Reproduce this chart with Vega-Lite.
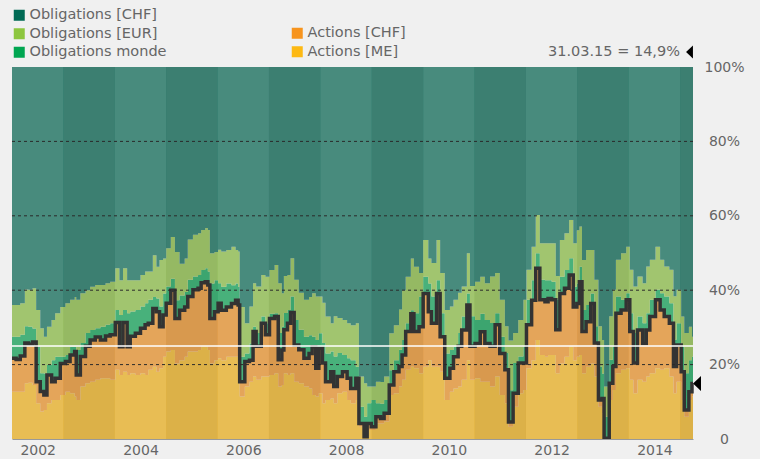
{
  "$schema": "https://vega.github.io/schema/vega-lite/v6.json",
  "width": 681,
  "height": 372,
  "autosize": {"type": "none"},
  "padding": {"left": 12, "top": 67, "right": 67, "bottom": 20},
  "background": "#f0f0f0",
  "config": {"view": {"stroke": null}, "font": "DejaVu Sans"},
  "datasets": {
    "order": [
      {"s": "me", "o": 1, "name": "Actions [ME]"},
      {"s": "ac", "o": 2, "name": "Actions [CHF]"},
      {"s": "mo", "o": 3, "name": "Obligations monde"},
      {"s": "eu", "o": 4, "name": "Obligations [EUR]"},
      {"s": "oc", "o": 5, "name": "Obligations [CHF]"}
    ],
    "bands": [
      {"a": 2002, "b": 2003, "d": 0}, {"a": 2003, "b": 2004, "d": 1},
      {"a": 2004, "b": 2005, "d": 0}, {"a": 2005, "b": 2006, "d": 1},
      {"a": 2006, "b": 2007, "d": 0}, {"a": 2007, "b": 2008, "d": 1},
      {"a": 2008, "b": 2009, "d": 0}, {"a": 2009, "b": 2010, "d": 1},
      {"a": 2010, "b": 2011, "d": 0}, {"a": 2011, "b": 2012, "d": 1},
      {"a": 2012, "b": 2013, "d": 0}, {"a": 2013, "b": 2014, "d": 1},
      {"a": 2014, "b": 2015, "d": 0}, {"a": 2015, "b": 2015.25, "d": 1}
    ],
    "alloc": [
      {"t": 2002.00, "me": 12.7, "ac": 9.0, "mo": 5.8, "eu": 8.5, "oc": 64.0},
      {"t": 2002.08, "me": 12.7, "ac": 8.7, "mo": 6.1, "eu": 8.5, "oc": 64.0},
      {"t": 2002.16, "me": 12.7, "ac": 9.6, "mo": 5.7, "eu": 8.5, "oc": 63.5},
      {"t": 2002.25, "me": 15.0, "ac": 10.8, "mo": 4.5, "eu": 9.9, "oc": 59.8},
      {"t": 2002.32, "me": 15.1, "ac": 10.4, "mo": 4.7, "eu": 9.9, "oc": 59.9},
      {"t": 2002.40, "me": 14.5, "ac": 11.6, "mo": 3.6, "eu": 10.8, "oc": 59.5},
      {"t": 2002.47, "me": 9.6, "ac": 5.8, "mo": 9.4, "eu": 9.9, "oc": 65.3},
      {"t": 2002.55, "me": 7.4, "ac": 5.4, "mo": 4.9, "eu": 12.1, "oc": 70.2},
      {"t": 2002.62, "me": 7.8, "ac": 4.0, "mo": 5.8, "eu": 9.9, "oc": 72.5},
      {"t": 2002.68, "me": 9.6, "ac": 7.6, "mo": 2.7, "eu": 10.3, "oc": 69.8},
      {"t": 2002.77, "me": 10.5, "ac": 4.9, "mo": 5.8, "eu": 10.8, "oc": 68.0},
      {"t": 2002.84, "me": 10.5, "ac": 5.8, "mo": 5.8, "eu": 11.7, "oc": 66.2},
      {"t": 2002.94, "me": 11.8, "ac": 8.5, "mo": 1.8, "eu": 13.4, "oc": 64.5},
      {"t": 2003.04, "me": 12.7, "ac": 8.1, "mo": 1.8, "eu": 13.9, "oc": 63.5},
      {"t": 2003.13, "me": 12.3, "ac": 10.3, "mo": 2.2, "eu": 12.6, "oc": 62.6},
      {"t": 2003.22, "me": 11.4, "ac": 12.1, "mo": 1.3, "eu": 13.4, "oc": 61.8},
      {"t": 2003.25, "me": 10.5, "ac": 6.7, "mo": 6.7, "eu": 13.5, "oc": 62.6},
      {"t": 2003.33, "me": 14.1, "ac": 8.1, "mo": 3.6, "eu": 13.4, "oc": 60.8},
      {"t": 2003.43, "me": 15.0, "ac": 9.9, "mo": 3.6, "eu": 11.5, "oc": 60.0},
      {"t": 2003.52, "me": 15.4, "ac": 11.2, "mo": 2.7, "eu": 11.6, "oc": 59.1},
      {"t": 2003.62, "me": 15.9, "ac": 11.5, "mo": 2.4, "eu": 11.6, "oc": 58.6},
      {"t": 2003.72, "me": 16.3, "ac": 10.3, "mo": 3.6, "eu": 11.2, "oc": 58.6},
      {"t": 2003.82, "me": 16.3, "ac": 11.4, "mo": 3.0, "eu": 11.2, "oc": 58.1},
      {"t": 2003.91, "me": 15.9, "ac": 12.1, "mo": 3.1, "eu": 11.2, "oc": 57.7},
      {"t": 2004.01, "me": 18.6, "ac": 12.7, "mo": 3.4, "eu": 11.2, "oc": 54.1},
      {"t": 2004.09, "me": 17.2, "ac": 7.6, "mo": 8.5, "eu": 9.4, "oc": 57.3},
      {"t": 2004.16, "me": 18.1, "ac": 13.2, "mo": 3.4, "eu": 11.2, "oc": 54.1},
      {"t": 2004.24, "me": 17.2, "ac": 7.6, "mo": 9.0, "eu": 8.9, "oc": 57.3},
      {"t": 2004.30, "me": 17.7, "ac": 9.9, "mo": 6.7, "eu": 8.4, "oc": 57.3},
      {"t": 2004.40, "me": 17.2, "ac": 11.2, "mo": 6.3, "eu": 8.0, "oc": 57.3},
      {"t": 2004.50, "me": 17.7, "ac": 12.1, "mo": 5.8, "eu": 8.5, "oc": 55.9},
      {"t": 2004.59, "me": 17.2, "ac": 13.5, "mo": 5.8, "eu": 8.5, "oc": 55.0},
      {"t": 2004.65, "me": 18.6, "ac": 12.5, "mo": 6.3, "eu": 7.6, "oc": 55.0},
      {"t": 2004.74, "me": 19.4, "ac": 15.7, "mo": 3.1, "eu": 11.2, "oc": 50.6},
      {"t": 2004.81, "me": 18.1, "ac": 16.1, "mo": 3.6, "eu": 8.5, "oc": 53.7},
      {"t": 2004.87, "me": 19.0, "ac": 11.2, "mo": 5.4, "eu": 12.5, "oc": 51.9},
      {"t": 2004.94, "me": 22.1, "ac": 11.2, "mo": 5.8, "eu": 9.4, "oc": 51.5},
      {"t": 2005.00, "me": 23.5, "ac": 13.0, "mo": 4.5, "eu": 10.3, "oc": 48.7},
      {"t": 2005.09, "me": 23.9, "ac": 16.1, "mo": 3.1, "eu": 11.2, "oc": 45.7},
      {"t": 2005.17, "me": 20.3, "ac": 12.1, "mo": 4.9, "eu": 13.0, "oc": 49.7},
      {"t": 2005.26, "me": 21.2, "ac": 13.4, "mo": 4.0, "eu": 8.5, "oc": 52.9},
      {"t": 2005.36, "me": 22.1, "ac": 13.4, "mo": 4.0, "eu": 9.0, "oc": 51.5},
      {"t": 2005.42, "me": 23.5, "ac": 14.8, "mo": 4.5, "eu": 10.8, "oc": 46.4},
      {"t": 2005.52, "me": 23.5, "ac": 16.6, "mo": 3.6, "eu": 11.2, "oc": 45.1},
      {"t": 2005.62, "me": 23.9, "ac": 16.6, "mo": 3.6, "eu": 11.2, "oc": 44.7},
      {"t": 2005.68, "me": 24.8, "ac": 17.2, "mo": 3.4, "eu": 10.8, "oc": 43.8},
      {"t": 2005.76, "me": 24.8, "ac": 17.5, "mo": 3.6, "eu": 10.8, "oc": 43.3},
      {"t": 2005.81, "me": 23.9, "ac": 17.5, "mo": 3.6, "eu": 11.2, "oc": 43.8},
      {"t": 2005.85, "me": 20.3, "ac": 12.1, "mo": 9.4, "eu": 8.1, "oc": 50.1},
      {"t": 2005.94, "me": 21.2, "ac": 13.0, "mo": 8.5, "eu": 7.6, "oc": 49.7},
      {"t": 2006.01, "me": 21.7, "ac": 14.8, "mo": 5.4, "eu": 9.0, "oc": 49.1},
      {"t": 2006.07, "me": 21.2, "ac": 13.4, "mo": 6.3, "eu": 9.5, "oc": 49.6},
      {"t": 2006.17, "me": 22.1, "ac": 13.4, "mo": 6.3, "eu": 9.0, "oc": 49.2},
      {"t": 2006.27, "me": 22.1, "ac": 14.3, "mo": 4.9, "eu": 10.4, "oc": 48.3},
      {"t": 2006.35, "me": 22.1, "ac": 15.2, "mo": 4.5, "eu": 9.0, "oc": 49.2},
      {"t": 2006.40, "me": 21.2, "ac": 14.8, "mo": 4.9, "eu": 9.5, "oc": 49.6},
      {"t": 2006.43, "me": 11.4, "ac": 4.0, "mo": 6.7, "eu": 13.4, "oc": 64.5},
      {"t": 2006.53, "me": 14.1, "ac": 6.7, "mo": 2.2, "eu": 8.1, "oc": 68.9},
      {"t": 2006.62, "me": 15.4, "ac": 5.8, "mo": 4.5, "eu": 9.9, "oc": 64.4},
      {"t": 2006.69, "me": 16.8, "ac": 12.1, "mo": 1.3, "eu": 11.7, "oc": 58.1},
      {"t": 2006.75, "me": 15.9, "ac": 9.0, "mo": 3.6, "eu": 12.5, "oc": 59.0},
      {"t": 2006.85, "me": 16.8, "ac": 14.3, "mo": 1.8, "eu": 11.2, "oc": 55.9},
      {"t": 2006.93, "me": 16.8, "ac": 11.2, "mo": 3.1, "eu": 12.5, "oc": 56.4},
      {"t": 2007.01, "me": 17.2, "ac": 15.2, "mo": 1.3, "eu": 11.7, "oc": 54.6},
      {"t": 2007.11, "me": 17.7, "ac": 15.2, "mo": 0.9, "eu": 13.0, "oc": 53.2},
      {"t": 2007.18, "me": 14.1, "ac": 7.2, "mo": 7.2, "eu": 13.4, "oc": 58.1},
      {"t": 2007.25, "me": 14.5, "ac": 9.4, "mo": 6.3, "eu": 9.0, "oc": 60.8},
      {"t": 2007.29, "me": 17.7, "ac": 11.7, "mo": 4.5, "eu": 9.9, "oc": 56.2},
      {"t": 2007.36, "me": 17.2, "ac": 13.9, "mo": 3.6, "eu": 9.4, "oc": 55.9},
      {"t": 2007.42, "me": 17.7, "ac": 16.3, "mo": 4.3, "eu": 10.3, "oc": 51.4},
      {"t": 2007.49, "me": 15.4, "ac": 9.9, "mo": 6.7, "eu": 10.8, "oc": 57.2},
      {"t": 2007.58, "me": 15.0, "ac": 9.0, "mo": 5.4, "eu": 9.9, "oc": 60.7},
      {"t": 2007.68, "me": 14.1, "ac": 7.6, "mo": 5.8, "eu": 9.9, "oc": 62.6},
      {"t": 2007.78, "me": 13.6, "ac": 9.4, "mo": 4.9, "eu": 10.3, "oc": 61.8},
      {"t": 2007.84, "me": 11.8, "ac": 13.0, "mo": 2.7, "eu": 11.7, "oc": 60.8},
      {"t": 2007.91, "me": 11.4, "ac": 7.6, "mo": 7.6, "eu": 11.7, "oc": 61.7},
      {"t": 2007.97, "me": 12.3, "ac": 12.1, "mo": 4.0, "eu": 9.9, "oc": 61.7},
      {"t": 2008.04, "me": 9.6, "ac": 10.8, "mo": 5.4, "eu": 10.8, "oc": 63.4},
      {"t": 2008.10, "me": 10.5, "ac": 4.9, "mo": 7.6, "eu": 9.9, "oc": 67.1},
      {"t": 2008.20, "me": 10.9, "ac": 7.2, "mo": 5.4, "eu": 7.6, "oc": 68.9},
      {"t": 2008.26, "me": 9.6, "ac": 4.5, "mo": 8.1, "eu": 10.8, "oc": 67.0},
      {"t": 2008.33, "me": 12.3, "ac": 4.5, "mo": 6.3, "eu": 9.4, "oc": 67.5},
      {"t": 2008.43, "me": 12.7, "ac": 5.4, "mo": 4.5, "eu": 9.4, "oc": 68.0},
      {"t": 2008.52, "me": 10.5, "ac": 5.8, "mo": 5.4, "eu": 9.4, "oc": 68.9},
      {"t": 2008.59, "me": 9.6, "ac": 4.0, "mo": 7.6, "eu": 9.4, "oc": 69.4},
      {"t": 2008.69, "me": 10.5, "ac": 5.8, "mo": 3.1, "eu": 11.7, "oc": 68.9},
      {"t": 2008.75, "me": 3.3, "ac": 0.9, "mo": 4.5, "eu": 8.1, "oc": 83.2},
      {"t": 2008.85, "me": 0.4, "ac": 0.2, "mo": 5.4, "eu": 9.0, "oc": 85.0},
      {"t": 2008.91, "me": 2.4, "ac": 1.8, "mo": 5.4, "eu": 4.5, "oc": 85.9},
      {"t": 2008.99, "me": 2.4, "ac": 0.9, "mo": 7.2, "eu": 3.6, "oc": 85.9},
      {"t": 2009.08, "me": 4.2, "ac": 1.8, "mo": 3.6, "eu": 5.8, "oc": 84.6},
      {"t": 2009.17, "me": 4.2, "ac": 1.3, "mo": 4.0, "eu": 5.8, "oc": 84.7},
      {"t": 2009.24, "me": 4.7, "ac": 2.2, "mo": 3.6, "eu": 6.3, "oc": 83.2},
      {"t": 2009.34, "me": 11.8, "ac": 2.7, "mo": 4.0, "eu": 9.9, "oc": 71.6},
      {"t": 2009.43, "me": 12.3, "ac": 5.8, "mo": 3.1, "eu": 9.4, "oc": 69.4},
      {"t": 2009.53, "me": 14.1, "ac": 5.4, "mo": 4.5, "eu": 10.8, "oc": 65.2},
      {"t": 2009.59, "me": 15.9, "ac": 6.7, "mo": 4.0, "eu": 13.4, "oc": 60.0},
      {"t": 2009.66, "me": 18.6, "ac": 10.3, "mo": 2.2, "eu": 12.5, "oc": 56.4},
      {"t": 2009.76, "me": 19.4, "ac": 14.3, "mo": 0.9, "eu": 13.9, "oc": 51.5},
      {"t": 2009.82, "me": 19.0, "ac": 9.9, "mo": 4.9, "eu": 12.5, "oc": 53.7},
      {"t": 2009.92, "me": 17.7, "ac": 12.5, "mo": 8.1, "eu": 6.3, "oc": 55.4},
      {"t": 2010.00, "me": 19.4, "ac": 19.7, "mo": 4.5, "eu": 9.9, "oc": 46.5},
      {"t": 2010.10, "me": 21.2, "ac": 13.0, "mo": 7.6, "eu": 6.7, "oc": 51.5},
      {"t": 2010.16, "me": 19.4, "ac": 11.7, "mo": 7.2, "eu": 9.0, "oc": 52.7},
      {"t": 2010.26, "me": 19.4, "ac": 19.7, "mo": 3.6, "eu": 10.8, "oc": 46.5},
      {"t": 2010.33, "me": 18.1, "ac": 9.4, "mo": 6.3, "eu": 10.8, "oc": 55.4},
      {"t": 2010.42, "me": 10.5, "ac": 5.8, "mo": 6.7, "eu": 11.7, "oc": 65.3},
      {"t": 2010.52, "me": 12.7, "ac": 6.3, "mo": 4.9, "eu": 11.7, "oc": 64.4},
      {"t": 2010.59, "me": 13.6, "ac": 8.5, "mo": 2.7, "eu": 12.6, "oc": 62.6},
      {"t": 2010.68, "me": 14.1, "ac": 10.8, "mo": 3.6, "eu": 10.8, "oc": 60.7},
      {"t": 2010.75, "me": 15.9, "ac": 13.4, "mo": 3.6, "eu": 8.1, "oc": 59.0},
      {"t": 2010.85, "me": 21.2, "ac": 14.8, "mo": 3.1, "eu": 10.8, "oc": 50.1},
      {"t": 2010.91, "me": 15.9, "ac": 9.0, "mo": 8.1, "eu": 8.1, "oc": 58.9},
      {"t": 2011.01, "me": 16.3, "ac": 9.4, "mo": 6.3, "eu": 10.3, "oc": 57.7},
      {"t": 2011.11, "me": 15.4, "ac": 13.4, "mo": 4.9, "eu": 9.9, "oc": 56.4},
      {"t": 2011.20, "me": 15.4, "ac": 10.3, "mo": 6.3, "eu": 9.9, "oc": 58.1},
      {"t": 2011.30, "me": 14.1, "ac": 10.8, "mo": 6.3, "eu": 12.5, "oc": 56.3},
      {"t": 2011.40, "me": 16.8, "ac": 13.9, "mo": 3.1, "eu": 10.8, "oc": 55.4},
      {"t": 2011.49, "me": 11.8, "ac": 11.2, "mo": 4.5, "eu": 9.9, "oc": 62.6},
      {"t": 2011.59, "me": 9.6, "ac": 9.0, "mo": 4.5, "eu": 7.2, "oc": 69.7},
      {"t": 2011.66, "me": 3.3, "ac": 1.3, "mo": 8.5, "eu": 13.4, "oc": 73.5},
      {"t": 2011.75, "me": 8.7, "ac": 3.6, "mo": 8.1, "eu": 8.1, "oc": 71.5},
      {"t": 2011.85, "me": 12.3, "ac": 8.1, "mo": 1.8, "eu": 9.8, "oc": 68.0},
      {"t": 2011.95, "me": 13.2, "ac": 7.2, "mo": 4.5, "eu": 12.5, "oc": 62.6},
      {"t": 2012.01, "me": 19.0, "ac": 11.7, "mo": 6.7, "eu": 8.1, "oc": 54.5},
      {"t": 2012.11, "me": 21.2, "ac": 16.1, "mo": 5.4, "eu": 9.0, "oc": 48.3},
      {"t": 2012.19, "me": 26.6, "ac": 19.3, "mo": 4.0, "eu": 10.3, "oc": 39.8},
      {"t": 2012.27, "me": 22.6, "ac": 14.8, "mo": 5.4, "eu": 9.8, "oc": 47.4},
      {"t": 2012.37, "me": 22.1, "ac": 14.8, "mo": 5.8, "eu": 9.9, "oc": 47.4},
      {"t": 2012.43, "me": 22.6, "ac": 15.2, "mo": 4.9, "eu": 9.9, "oc": 47.4},
      {"t": 2012.50, "me": 22.6, "ac": 14.8, "mo": 4.9, "eu": 10.3, "oc": 47.4},
      {"t": 2012.58, "me": 17.7, "ac": 11.7, "mo": 8.1, "eu": 6.3, "oc": 56.2},
      {"t": 2012.66, "me": 20.3, "ac": 18.8, "mo": 4.5, "eu": 9.9, "oc": 46.5},
      {"t": 2012.75, "me": 22.1, "ac": 18.4, "mo": 4.9, "eu": 9.9, "oc": 44.7},
      {"t": 2012.84, "me": 24.8, "ac": 19.3, "mo": 4.5, "eu": 10.3, "oc": 41.1},
      {"t": 2012.92, "me": 21.2, "ac": 14.3, "mo": 5.4, "eu": 11.7, "oc": 47.4},
      {"t": 2012.99, "me": 22.1, "ac": 14.3, "mo": 5.4, "eu": 14.3, "oc": 43.9},
      {"t": 2013.04, "me": 22.6, "ac": 19.7, "mo": 4.0, "eu": 10.8, "oc": 42.9},
      {"t": 2013.09, "me": 17.7, "ac": 11.2, "mo": 5.8, "eu": 13.4, "oc": 51.9},
      {"t": 2013.17, "me": 19.4, "ac": 12.1, "mo": 4.5, "eu": 14.8, "oc": 49.2},
      {"t": 2013.26, "me": 20.3, "ac": 16.1, "mo": 2.7, "eu": 11.7, "oc": 49.2},
      {"t": 2013.33, "me": 16.8, "ac": 9.0, "mo": 4.5, "eu": 12.5, "oc": 57.2},
      {"t": 2013.41, "me": 8.7, "ac": 1.8, "mo": 9.0, "eu": 10.8, "oc": 69.7},
      {"t": 2013.48, "me": 6.9, "ac": 4.0, "mo": 6.7, "eu": 9.0, "oc": 73.4},
      {"t": 2013.52, "me": 0.2, "ac": 0.0, "mo": 5.8, "eu": 8.1, "oc": 85.9},
      {"t": 2013.62, "me": 10.5, "ac": 4.5, "mo": 6.3, "eu": 11.7, "oc": 67.0},
      {"t": 2013.69, "me": 13.2, "ac": 6.3, "mo": 5.4, "eu": 15.2, "oc": 59.9},
      {"t": 2013.75, "me": 17.7, "ac": 16.1, "mo": 4.5, "eu": 9.9, "oc": 51.8},
      {"t": 2013.85, "me": 18.6, "ac": 16.1, "mo": 2.7, "eu": 12.5, "oc": 50.1},
      {"t": 2013.95, "me": 19.0, "ac": 18.4, "mo": 1.8, "eu": 12.5, "oc": 48.3},
      {"t": 2014.02, "me": 15.9, "ac": 13.0, "mo": 4.9, "eu": 11.7, "oc": 54.5},
      {"t": 2014.09, "me": 12.3, "ac": 8.1, "mo": 8.1, "eu": 12.5, "oc": 59.0},
      {"t": 2014.17, "me": 15.9, "ac": 13.4, "mo": 3.6, "eu": 10.8, "oc": 56.3},
      {"t": 2014.27, "me": 15.4, "ac": 10.3, "mo": 5.4, "eu": 10.8, "oc": 58.1},
      {"t": 2014.34, "me": 16.8, "ac": 12.5, "mo": 4.5, "eu": 12.6, "oc": 53.6},
      {"t": 2014.41, "me": 17.7, "ac": 15.2, "mo": 4.5, "eu": 10.8, "oc": 51.8},
      {"t": 2014.52, "me": 19.0, "ac": 18.4, "mo": 2.7, "eu": 11.6, "oc": 48.3},
      {"t": 2014.61, "me": 18.6, "ac": 16.1, "mo": 4.5, "eu": 9.0, "oc": 51.8},
      {"t": 2014.69, "me": 19.0, "ac": 13.9, "mo": 5.4, "eu": 8.1, "oc": 53.6},
      {"t": 2014.79, "me": 16.8, "ac": 14.3, "mo": 5.4, "eu": 9.0, "oc": 54.5},
      {"t": 2014.87, "me": 12.3, "ac": 7.2, "mo": 7.2, "eu": 11.7, "oc": 61.6},
      {"t": 2014.93, "me": 15.4, "ac": 9.9, "mo": 5.8, "eu": 9.0, "oc": 59.9},
      {"t": 2015.02, "me": 10.5, "ac": 7.6, "mo": 6.7, "eu": 8.1, "oc": 67.1},
      {"t": 2015.08, "me": 6.0, "ac": 1.8, "mo": 9.9, "eu": 10.8, "oc": 71.5},
      {"t": 2015.17, "me": 10.5, "ac": 2.2, "mo": 8.5, "eu": 9.0, "oc": 69.8},
      {"t": 2015.23, "me": 11.4, "ac": 3.5, "mo": 7.2, "eu": 5.4, "oc": 72.5},
      {"t": 2015.25, "me": 11.4, "ac": 3.5, "mo": 7.2, "eu": 5.4, "oc": 72.5}
    ]
  },
  "layer": [
    {
      "data": {"name": "alloc"},
      "transform": [
        {"fold": ["me", "ac", "mo", "eu", "oc"], "as": ["s", "value"]},
        {"lookup": "s", "from": {"data": {"name": "order"}, "key": "s", "fields": ["o", "name"]}},
        {"stack": "value", "groupby": ["t"], "sort": [{"field": "o", "order": "ascending"}], "as": ["v0", "v1"]},
        {"filter": "datum.o >= 3"}
      ],
      "mark": {"type": "area", "interpolate": "step-after"},
      "encoding": {
        "x": {
          "field": "t", "type": "quantitative",
          "scale": {"domain": [2002, 2015.25], "nice": false, "zero": false},
          "axis": {
            "values": [2002.5, 2004.5, 2006.5, 2008.5, 2010.5, 2012.5, 2014.5],
            "labelExpr": "'' + floor(datum.value)",
            "ticks": false, "grid": false, "domain": true, "domainColor": "#999999",
            "labelFontSize": 14, "labelColor": "#666666", "labelPadding": 4,
            "title": null, "zindex": 1
          }
        },
        "y": {
          "field": "v1", "type": "quantitative",
          "scale": {"domain": [0, 100], "nice": false},
          "axis": {
            "orient": "right", "values": [0, 20, 40, 60, 80, 100],
            "labelExpr": "datum.value == 0 ? '0' : datum.value + '%'",
            "ticks": false, "domain": false, "grid": false,
            "labelAlign": "center", "labelPadding": 31,
            "labelFontSize": 14, "labelColor": "#666666", "title": null
          }
        },
        "y2": {"field": "v0"},
        "fill": {
          "field": "name", "type": "nominal",
          "scale": {"domain": ["Obligations [CHF]", "Obligations [EUR]", "Obligations monde"], "range": ["#006a55", "#8dc63f", "#00a651"]},
          "legend": {
            "orient": "none", "legendX": 0, "legendY": -59, "title": null,
            "symbolType": "square", "symbolSize": 121, "symbolStrokeWidth": 0, "symbolOpacity": 1,
            "labelFontSize": 14.5, "labelColor": "#666666", "labelOffset": 3, "rowPadding": 3.5
          }
        }
      }
    },
    {
      "data": {"name": "alloc"},
      "transform": [
        {"fold": ["me", "ac", "mo", "eu", "oc"], "as": ["s", "value"]},
        {"lookup": "s", "from": {"data": {"name": "order"}, "key": "s", "fields": ["o", "name"]}},
        {"stack": "value", "groupby": ["t"], "sort": [{"field": "o", "order": "ascending"}], "as": ["v0", "v1"]},
        {"filter": "datum.o <= 2"}
      ],
      "mark": {"type": "area", "interpolate": "step-after"},
      "encoding": {
        "x": {"field": "t", "type": "quantitative"},
        "y": {"field": "v1", "type": "quantitative"},
        "y2": {"field": "v0"},
        "color": {
          "field": "name", "type": "nominal",
          "scale": {"domain": ["Actions [CHF]", "Actions [ME]"], "range": ["#f7941d", "#fdb913"]},
          "legend": {
            "orient": "none", "legendX": 278, "legendY": -41, "title": null,
            "symbolType": "square", "symbolSize": 121, "symbolStrokeWidth": 0, "symbolOpacity": 1,
            "labelFontSize": 14.5, "labelColor": "#666666", "labelOffset": 3, "rowPadding": 3.5
          }
        }
      }
    },
    {
      "data": {"name": "bands"},
      "mark": {"type": "rect", "opacity": 0.37},
      "encoding": {
        "x": {"field": "a", "type": "quantitative"},
        "x2": {"field": "b"},
        "fill": {"condition": {"test": "datum.d == 1", "value": "#a2a2a2"}, "value": "#c3c3c3"}
      }
    },
    {
      "data": {"name": "alloc"},
      "transform": [
        {"fold": ["me", "ac", "mo", "eu", "oc"], "as": ["s", "value"]},
        {"lookup": "s", "from": {"data": {"name": "order"}, "key": "s", "fields": ["o", "name"]}},
        {"stack": "value", "groupby": ["t"], "sort": [{"field": "o", "order": "ascending"}], "as": ["v0", "v1"]},
        {"filter": "datum.o == 2"}
      ],
      "mark": {"type": "line", "interpolate": "step-after", "color": "#333333", "strokeWidth": 3.5},
      "encoding": {
        "x": {"field": "t", "type": "quantitative"},
        "y": {"field": "v1", "type": "quantitative"}
      }
    },
    {
      "data": {"values": [{"g": 20}, {"g": 40}, {"g": 60}, {"g": 80}]},
      "mark": {"type": "rule", "strokeDash": [3, 3], "color": "#2a2a2a", "strokeWidth": 1},
      "encoding": {"y": {"field": "g", "type": "quantitative"}}
    },
    {
      "data": {"values": [{"r": 25}]},
      "mark": {"type": "rule", "color": "#ffffff", "strokeWidth": 1.5},
      "encoding": {"y": {"field": "r", "type": "quantitative"}}
    },
    {
      "data": {"values": [{"t": 2015.25, "v": 14.9, "top": 100, "label": "31.03.15 = 14,9%"}]},
      "layer": [
        {
          "mark": {"type": "point", "shape": "M0.53,-1L-0.53,0L0.53,1Z", "filled": true, "color": "#000000", "opacity": 1, "size": 225, "xOffset": 4},
          "encoding": {"x": {"field": "t", "type": "quantitative"}, "y": {"field": "v", "type": "quantitative"}}
        },
        {
          "mark": {"type": "point", "shape": "M0.53,-1L-0.53,0L0.53,1Z", "filled": true, "color": "#000000", "opacity": 1, "size": 169, "xOffset": -3.5, "yOffset": -15},
          "encoding": {"x": {"field": "t", "type": "quantitative"}, "y": {"field": "top", "type": "quantitative"}}
        },
        {
          "mark": {"type": "text", "align": "right", "baseline": "middle", "dx": -13, "dy": -15, "fontSize": 14.5, "color": "#666666"},
          "encoding": {"x": {"field": "t", "type": "quantitative"}, "y": {"field": "top", "type": "quantitative"}, "text": {"field": "label"}}
        }
      ]
    }
  ]
}
